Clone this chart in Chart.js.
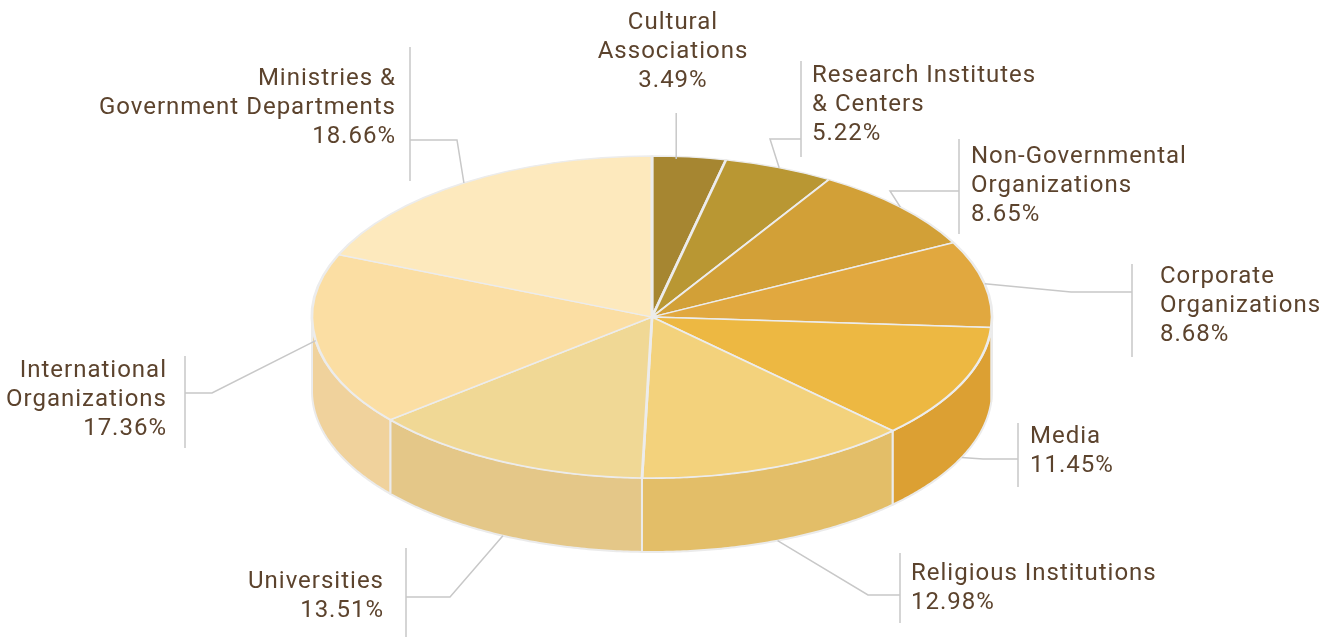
<!DOCTYPE html>
<html><head><meta charset="utf-8">
<script src="https://cdn.jsdelivr.net/npm/chart.js@4"></script>
<style>html,body{margin:0;padding:0;background:#fff;overflow:hidden}#wrap{width:1336px;height:637px;position:relative}</style>
</head><body><div id="wrap"><canvas id="c"></canvas></div>
<script>
// ---- data ----
const categories = [
  ['Cultural', 'Associations'],
  ['Research Institutes', '& Centers'],
  ['Non-Governmental', 'Organizations'],
  ['Corporate', 'Organizations'],
  ['Media'],
  ['Religious Institutions'],
  ['Universities'],
  ['International', 'Organizations'],
  ['Ministries &', 'Government Departments']
];
const shares = [3.49, 5.22, 8.65, 8.68, 11.45, 12.98, 13.51, 17.36, 18.66];

// ---- style ----
const topColors  = ['#A68631', '#B99733', '#D2A037', '#E1A83F', '#EDB842', '#F3D27C', '#F0D895', '#FBDEA3', '#FDE9BD'];
const sideColors = ['#977728', '#A6872C', '#BE8F30', '#CE9937', '#DCA033', '#E3BE68', '#E4C788', '#F0D29C', '#F5DDB0'];
const geom = { cx: 652, cy: 317, rx: 340, ry: 161, depth: 74 };
const TEXT_COLOR = '#5C432D';
const LINE_COLOR = '#C8C8C8';
const FONT = '24px Roboto';
const LINE_H = 29;
// per-label leader / text placement
const labelLayout = [
  { anchor: 'top',  vertical: 113, text: [673, 23], align: 'center' },
  { anchor: 'top',  elbow: [770, 139], bar: [801, 61, 157], text: [812, 76], align: 'left' },
  { anchor: 'top',  elbow: [890, 191], bar: [959, 139, 234], text: [971, 157], align: 'left' },
  { anchor: 'top',  elbow: [1071, 292], bar: [1132, 264, 357], text: [1160, 277], align: 'left' },
  { anchor: 'side', elbow: [983, 459], bar: [1018, 423, 487], text: [1030, 437], align: 'left' },
  { anchor: 'side', elbow: [868, 595], bar: [900, 553, 623], text: [911, 574], align: 'left' },
  { anchor: 'side', elbow: [450, 597], bar: [406, 548, 637], text: [384, 582], align: 'right' },
  { anchor: 'top',  elbow: [212, 393], bar: [185, 356, 448], text: [167, 371], align: 'right' },
  { anchor: 'top',  elbow: [457, 140], bar: [410, 47, 181], text: [396, 79], align: 'right' }
];

function ept(t, dz) {
  return [geom.cx + geom.rx * Math.cos(t), geom.cy + geom.ry * Math.sin(t) + (dz || 0)];
}

const pie3d = {
  id: 'pie3d',
  beforeDatasetsDraw(chart) {
    const ctx = chart.ctx;
    const meta = chart.getDatasetMeta(0);
    meta.data.forEach((arc, i) => {
      const p = arc.getProps(['startAngle', 'endAngle'], true);
      const a = Math.max(p.startAngle, 0), b = Math.min(p.endAngle, Math.PI);
      if (b <= a) return;
      const N = 80;
      ctx.save();
      ctx.beginPath();
      for (let k = 0; k <= N; k++) { const q = ept(a + (b - a) * k / N, 0); k ? ctx.lineTo(q[0], q[1]) : ctx.moveTo(q[0], q[1]); }
      for (let k = N; k >= 0; k--) { const q = ept(a + (b - a) * k / N, geom.depth); ctx.lineTo(q[0], q[1]); }
      ctx.closePath();
      ctx.fillStyle = sideColors[i];
      ctx.fill();
      ctx.lineWidth = 2;
      ctx.strokeStyle = '#EBEBEB';
      ctx.lineJoin = 'round';
      ctx.stroke();
      ctx.restore();
    });
    const p0 = meta.data[0].getProps(['x', 'y', 'outerRadius'], true);
    ctx.save();
    ctx.translate(geom.cx, geom.cy);
    ctx.scale(geom.rx / p0.outerRadius, geom.ry / p0.outerRadius);
    ctx.translate(-p0.x, -p0.y);
  },
  afterDatasetsDraw(chart) {
    chart.ctx.restore();
  },
  afterDraw(chart) {
    const ctx = chart.ctx;
    const meta = chart.getDatasetMeta(0);
    const labels = chart.data.labels;
    const vals = chart.data.datasets[0].data;
    meta.data.forEach((arc, i) => {
      const L = labelLayout[i];
      const p = arc.getProps(['startAngle', 'endAngle'], true);
      const mid = (p.startAngle + p.endAngle) / 2;
      const an = ept(mid, L.anchor === 'side' ? geom.depth : 0);
      ctx.save();
      ctx.strokeStyle = LINE_COLOR;
      ctx.lineWidth = 1.5;
      ctx.beginPath();
      if (L.vertical !== undefined) {
        ctx.moveTo(an[0] - 13, an[1] + 2);
        ctx.lineTo(an[0] - 13, L.vertical);
      } else {
        ctx.moveTo(an[0], an[1]);
        ctx.lineTo(L.elbow[0], L.elbow[1]);
        ctx.lineTo(L.bar[0], L.elbow[1]);
        ctx.moveTo(L.bar[0], L.bar[1]);
        ctx.lineTo(L.bar[0], L.bar[2]);
      }
      ctx.stroke();
      const lines = [].concat(labels[i], [vals[i].toFixed(2) + '%']);
      ctx.fillStyle = TEXT_COLOR;
      ctx.font = FONT;
      ctx.letterSpacing = '1px';
      ctx.textAlign = L.align;
      ctx.textBaseline = 'middle';
      lines.forEach((s, k) => ctx.fillText(s, L.text[0], L.text[1] + k * LINE_H));
      ctx.restore();
    });
  }
};

new Chart(document.getElementById('c'), {
  type: 'pie',
  data: {
    labels: categories,
    datasets: [{
      data: shares,
      backgroundColor: topColors,
      borderColor: '#ECECEC',
      borderWidth: 2.6,
      clip: false
    }]
  },
  options: {
    responsive: true,
    maintainAspectRatio: false,
    animation: false,
    events: [],
    layout: { padding: 0 },
    plugins: { legend: { display: false }, tooltip: { enabled: false } }
  },
  plugins: [pie3d]
});
</script>
</body></html>
